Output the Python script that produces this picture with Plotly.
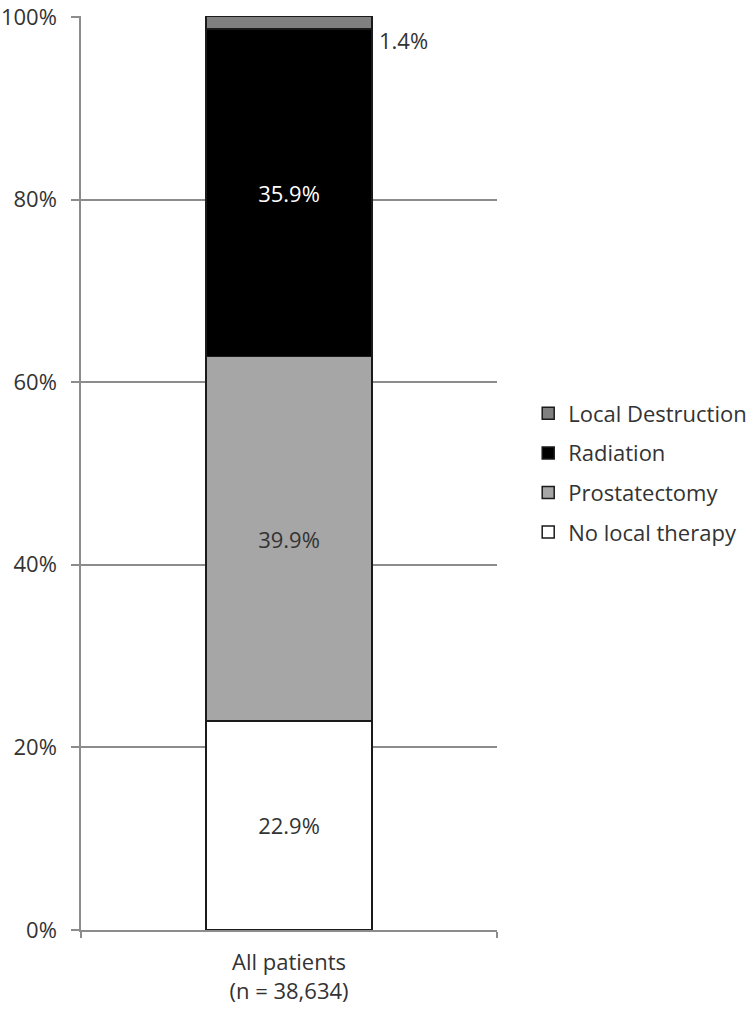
import plotly.graph_objects as go

categories = ["All patients<br>(n = 38,634)"]
series_names = ["No local therapy", "Prostatectomy", "Radiation", "Local Destruction"]
series_values = [[22.9], [39.9], [35.9], [1.4]]
series_labels = ["22.9%", "39.9%", "35.9%", "1.4%"]
colors = ["#ffffff", "#a6a6a6", "#000000", "#808080"]
text_colors = ["#333333", "#333333", "#ffffff", "#333333"]
y_ticks = [0, 20, 40, 60, 80, 100]
y_tick_labels = ["0%", "20%", "40%", "60%", "80%", "100%"]

FONT = "Open Sans"
FS = 22
TXT = "#333333"
GRID = "#8c8c8c"

fig = go.Figure()
xpos = list(range(len(categories)))
n = len(series_names)
for i, name in enumerate(series_names):
    show_inside = name != "Local Destruction"
    fig.add_trace(go.Bar(
        x=xpos, y=series_values[i], name=name,
        width=0.4,
        marker=dict(color=colors[i], line=dict(color="#1a1a1a", width=1.5)),
        text=[series_labels[i]] if show_inside else None,
        textposition="inside" if show_inside else "none",
        insidetextanchor="middle",
        textangle=0,
        textfont=dict(family=FONT, size=FS, color=text_colors[i]),
        legendgroup=name,
        legendrank=n - i,
        hoverinfo="skip",
    ))

# outside label for the small top segment (placed just below its segment, right of the bar)
below_top = sum(v[0] for v in series_values[:3])
fig.add_annotation(x=0.2, y=below_top, xref="x", yref="y", text=series_labels[3],
                   showarrow=False, xanchor="left", yanchor="top", xshift=5, yshift=6,
                   font=dict(family=FONT, size=FS, color=TXT))

fig.update_layout(
    barmode="stack",
    width=755, height=1020,
    margin=dict(l=81, r=258, t=16, b=90, autoexpand=False),
    plot_bgcolor="white", paper_bgcolor="white",
    font=dict(family=FONT, size=FS, color=TXT),
    showlegend=True,
    legend=dict(traceorder="grouped", x=1.075, xanchor="left", y=0.5, yanchor="middle",
                tracegroupgap=8, font=dict(family=FONT, size=FS, color=TXT),
                bgcolor="rgba(0,0,0,0)"),
    xaxis=dict(range=[-0.5, 0.5], tickvals=xpos, ticktext=categories, ticks="",
               showgrid=False, zeroline=False, showline=True, linecolor=GRID, linewidth=1.5,
               minor=dict(tickvals=[-0.5, 0.5], ticks="outside", ticklen=6, tickcolor=GRID, tickwidth=1.5),
               ticklabelstandoff=12,
               tickfont=dict(family=FONT, size=FS, color=TXT), fixedrange=True, automargin=False),
    yaxis=dict(range=[0, 100.1], tickvals=y_ticks, ticktext=y_tick_labels,
               showgrid=True, gridcolor=GRID, gridwidth=1.5, zeroline=False,
               showline=True, linecolor=GRID, linewidth=1.5,
               ticks="outside", ticklen=8, tickcolor=GRID, tickwidth=1.5,
               ticklabelstandoff=10, ticklabeloverflow="allow",
               tickfont=dict(family=FONT, size=FS, color=TXT), fixedrange=True, automargin=False),
)

fig.write_html("out.html", config={"displayModeBar": False},
               post_script="document.body.style.margin='0';")
